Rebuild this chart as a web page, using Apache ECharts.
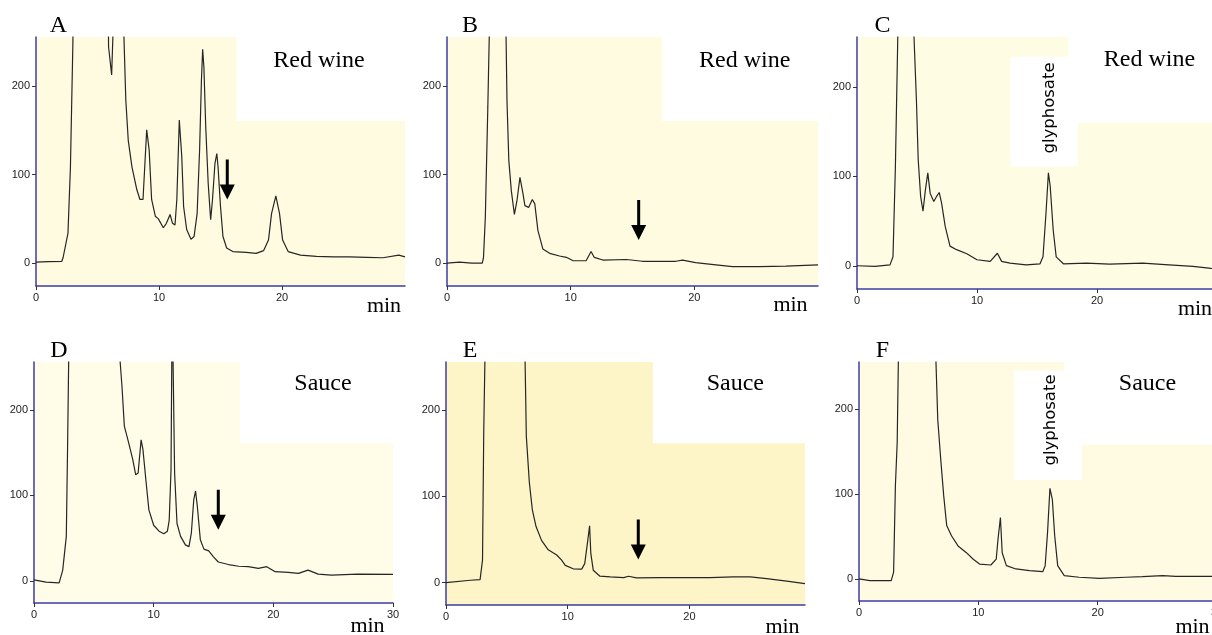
<!DOCTYPE html>
<html>
<head>
<meta charset="utf-8">
<script src="https://cdn.jsdelivr.net/npm/echarts@6/dist/echarts.min.js"></script>
<style>html,body{margin:0;padding:0;background:#fff}#c{width:1212px;height:635px}</style>
</head>
<body>
<div id="c"></div>
<script>
// ---- data: retention time (min) vs detector signal ----
const traceA = [[0,1],[1,1.5],[2.1,2],[2.2,6],[2.6,34],[2.8,109],[3.0,250],[3.05,330],[5.85,330],[5.9,245],[6.15,213],[6.25,256],[6.3,330],[7.1,330],[7.15,256],[7.3,185],[7.5,139],[7.8,109],[8.2,83],[8.45,72],[8.7,72],[9.0,151],[9.2,128],[9.4,72],[9.7,53],[9.95,50],[10.35,40],[10.6,45],[10.9,55],[11.1,45],[11.3,43],[11.45,72],[11.65,162],[11.85,121],[12.0,64],[12.25,38],[12.6,27],[12.85,30],[13.1,56],[13.3,128],[13.45,207],[13.55,242],[13.65,222],[13.8,154],[14.0,90],[14.2,49],[14.35,72],[14.55,113],[14.7,124],[14.8,109],[15.0,64],[15.2,30],[15.5,17],[16.0,13],[17.1,12],[17.9,11],[18.5,14],[18.9,26],[19.15,56],[19.5,76],[19.8,56],[20.05,26],[20.5,13],[21.5,9],[22.8,7.5],[24.2,7],[25.5,7],[26.9,6.5],[28.2,6],[29.5,9],[30,7]];
const traceB = [[0,0],[1,1],[2,0],[2.85,0],[2.95,6],[3.1,52],[3.3,176],[3.45,280],[3.55,330],[4.7,330],[4.85,184],[5.0,116],[5.2,82],[5.45,55],[5.65,70],[5.9,97],[6.15,78],[6.3,65],[6.6,63],[6.9,72],[7.1,67],[7.35,37],[7.75,16],[8.3,11],[9.1,8],[9.65,6.5],[10.2,2.6],[11.25,2.6],[11.65,13],[11.9,6.5],[12.6,3.4],[14.5,4],[15.8,2],[18.5,2],[19.05,3.4],[20.1,0.4],[21.75,-2],[23.1,-4],[25.25,-4],[27.4,-3.4],[30,-2]];
const traceC = [[0,0],[1.5,-0.7],[2.75,1],[3.0,10],[3.2,111],[3.4,257],[3.5,330],[4.65,330],[4.75,256],[4.95,186],[5.1,119],[5.3,78],[5.5,61],[5.7,85],[5.9,104],[6.1,81],[6.4,72],[6.65,78],[6.85,82],[7.05,70],[7.35,44],[7.75,22],[8.3,18],[9.15,13.4],[10.0,6.7],[11.1,4.9],[11.7,14],[12.05,4.9],[12.75,3],[14.1,1.1],[15.25,2.2],[15.5,10],[15.75,59],[15.95,104],[16.1,89],[16.35,40],[16.6,10],[17.2,2.2],[19.1,3],[21.05,1.9],[23.8,3],[26.0,1.1],[28.0,-0.7],[29.5,-3],[30,-3.5]];
const traceD = [[0,1],[1.0,-1.6],[2.1,-2.4],[2.4,12.5],[2.7,52],[2.8,150],[2.9,260],[2.95,330],[7.1,330],[7.2,256],[7.35,228],[7.55,181],[7.9,162],[8.25,142],[8.5,124],[8.7,126],[8.95,165],[9.1,154],[9.35,118],[9.6,83],[10.0,65],[10.45,58],[10.85,55],[11.15,58],[11.3,71],[11.45,130],[11.55,330],[11.65,330],[11.75,126],[11.95,67],[12.25,52],[12.65,42],[12.95,40],[13.15,56],[13.35,95],[13.5,105],[13.65,87],[13.9,48],[14.2,37],[14.6,35],[15.0,28],[15.4,22],[16.25,19],[17.1,17],[17.9,16.5],[18.75,14.5],[19.45,16.5],[20.15,10.6],[21.25,9.8],[22.1,8.6],[22.9,12.5],[23.75,7.8],[24.85,6.7],[27.05,7.8],[30,7.5]];
const traceE = [[0,0],[2.0,2.7],[2.8,3.5],[3.0,26],[3.1,174],[3.2,260],[3.25,330],[6.45,330],[6.5,256],[6.6,170],[6.85,116],[7.1,84],[7.4,65],[7.85,49],[8.4,38],[9.1,32],[9.5,26],[9.8,20],[10.45,16],[11.15,15.6],[11.4,22],[11.65,49],[11.8,66],[11.9,34],[12.1,14.4],[12.65,7.4],[13.5,6.6],[14.6,5.8],[15.0,7.4],[15.65,5.4],[17.6,5.8],[19.0,5.8],[21.7,5.8],[23.6,6.6],[25.0,6.6],[26.35,4.7],[28.0,1.6],[29.5,-1.2]];
const traceF = [[0,0],[0.9,-2],[2.7,-2],[2.9,8],[3.05,110],[3.2,161],[3.3,259],[3.35,330],[6.4,330],[6.45,256],[6.6,188],[6.85,141],[7.1,98],[7.35,63],[7.75,51],[8.3,39],[9.0,31],[9.55,23.5],[10.1,17.6],[11.05,16.5],[11.5,23.5],[11.65,47],[11.85,72.5],[12.0,31],[12.35,15.7],[13.15,11.8],[14.3,9.8],[15.4,8.6],[15.6,15.7],[15.8,55],[16.0,107],[16.2,94],[16.4,51],[16.65,15.7],[17.2,3.9],[18.45,2],[20.15,0.8],[22.35,2],[23.75,2.7],[25.45,3.9],[26.55,3.1],[30,3.1]];

// arrow tips [time, signal]
const arrowA = [15.55, 72];
const arrowB = [15.5, 26];
const arrowD = [15.4, 59.6];
const arrowE = [15.8, 26.8];

// white label boxes [x1, y1, x2, y2] in data units
const boxesA = [[16.3, 161, 30, 256]];
const boxesB = [[17.4, 161, 30, 256]];
const boxesC = [[12.8, 111, 18.4, 234], [17.6, 160, 30, 256]];
const boxesD = [[17.2, 161, 30, 256]];
const boxesE = [[17.0, 161.6, 29.5, 256]];
const boxesF = [[13.0, 116.7, 18.7, 246], [17.2, 158.7, 30, 256]];

const xTicksABCE = [0, 10, 20];
const xTicksDF = [0, 10, 20, 30];
const yTicks = [0, 100, 200];
const letters = ['A', 'B', 'C', 'D', 'E', 'F'];
const sampleTop = 'Red wine';
const sampleBottom = 'Sauce';
const peakName = 'glyphosate';
const unitName = 'min';

// ---- layout ----
const panels = [
  {grid:{left:36, top:37, width:369, height:249}, xmax:30, trace:traceA, arrow:arrowA, boxes:boxesA, xt:xTicksABCE, bg:'#fffbe0'},
  {grid:{left:447, top:37, width:371, height:249}, xmax:30, trace:traceB, arrow:arrowB, boxes:boxesB, xt:xTicksABCE, bg:'#fffbe0'},
  {grid:{left:857, top:37, width:360, height:252}, xmax:30, trace:traceC, arrow:null, boxes:boxesC, xt:xTicksABCE, bg:'#fffce4'},
  {grid:{left:34, top:362, width:359, height:241}, xmax:30, trace:traceD, arrow:arrowD, boxes:boxesD, xt:xTicksDF, bg:'#fffce8'},
  {grid:{left:446, top:362, width:359, height:243}, xmax:29.5, trace:traceE, arrow:arrowE, boxes:boxesE, xt:xTicksABCE, bg:'#fdf5c8'},
  {grid:{left:859, top:362, width:358, height:239}, xmax:30, trace:traceF, arrow:null, boxes:boxesF, xt:xTicksDF, bg:'#fffbe2'}
];

const axisBlue = '#3c3ca6';
const tickFont = {fontFamily:'Liberation Sans, Arial, sans-serif', fontSize:11, color:'#222'};
const arrowPath = 'path://M6,0 L9,0 L9,25 L15,25 L7.5,40 L0,25 L6,25 Z';

const grid = [], xAxis = [], yAxis = [], series = [];
panels.forEach((p, i) => {
  grid.push(Object.assign({show:true, backgroundColor:p.bg, borderWidth:0, containLabel:false, outerBoundsMode:'none'}, p.grid));
  xAxis.push({
    type:'value', gridIndex:i, min:0, max:p.xmax,
    axisLine:{show:true, onZero:false, lineStyle:{color:axisBlue, width:1.5}},
    axisTick:{show:true, length:4, customValues:p.xt, lineStyle:{color:'#333'}},
    axisLabel:Object.assign({show:true, margin:6, customValues:p.xt}, tickFont),
    splitLine:{show:false}
  });
  yAxis.push({
    type:'value', gridIndex:i, min:-26, max:256,
    axisLine:{show:true, onZero:false, lineStyle:{color:axisBlue, width:1.5}},
    axisTick:{show:true, length:4, customValues:yTicks, lineStyle:{color:'#333'}},
    axisLabel:Object.assign({show:true, margin:6, customValues:yTicks}, tickFont),
    splitLine:{show:false}
  });
  const s = {
    type:'line', xAxisIndex:i, yAxisIndex:i, data:p.trace, showSymbol:false, symbol:'none',
    clip:true, z:3, silent:true,
    lineStyle:{color:'#262626', width:1.2},
    markArea:{
      silent:true, z:1,
      itemStyle:{color:'#ffffff', borderWidth:0},
      label:{show:false},
      data:p.boxes.map(b => [{coord:[b[0], b[1]]}, {coord:[b[2], b[3]]}])
    }
  };
  if (p.arrow) {
    s.markPoint = {
      silent:true, z:5,
      symbol:arrowPath, symbolSize:[15,40], symbolOffset:[0,-20],
      itemStyle:{color:'#000'}, label:{show:false},
      data:[{coord:p.arrow}]
    };
  }
  series.push(s);
});

const serif = 'Liberation Serif, Times New Roman, serif';
function txt(x, y, text, size, extra) {
  return Object.assign({
    type:'text', x:x, y:y, silent:true, z:10,
    style:{text:text, font:size + 'px ' + serif, fill:'#000',
           align:'center', verticalAlign:'middle', textAlign:'center', textVerticalAlign:'middle'}
  }, extra || {});
}
const graphic = [
  txt(58.5, 26, letters[0], 24), txt(470, 26, letters[1], 24), txt(882.5, 26, letters[2], 24),
  txt(59, 351, letters[3], 24), txt(470, 351, letters[4], 24), txt(882.5, 351, letters[5], 24),
  txt(319, 61, sampleTop, 24), txt(744.7, 61, sampleTop, 24), txt(1149.5, 59.5, sampleTop, 24),
  txt(323, 384, sampleBottom, 24), txt(735.3, 384, sampleBottom, 24), txt(1147.5, 384, sampleBottom, 24),
  txt(384, 306, unitName, 22), txt(790.5, 305.5, unitName, 22), txt(1195, 309, unitName, 22),
  txt(367.5, 626, unitName, 22), txt(782.5, 627.5, unitName, 22), txt(1192.5, 627.5, unitName, 22),
  {type:'text', x:1050, y:108, rotation:Math.PI/2, scaleX:1.1, silent:true, z:10,
   style:{text:peakName, font:'15px DejaVu Sans, Verdana, sans-serif', fill:'#000',
          align:'center', verticalAlign:'middle', textAlign:'center', textVerticalAlign:'middle'}},
  {type:'text', x:1051.5, y:420, rotation:Math.PI/2, scaleX:1.1, silent:true, z:10,
   style:{text:peakName, font:'15px DejaVu Sans, Verdana, sans-serif', fill:'#000',
          align:'center', verticalAlign:'middle', textAlign:'center', textVerticalAlign:'middle'}}
];

const chart = echarts.init(document.getElementById('c'), null, {renderer:'canvas'});
chart.setOption({animation:false, backgroundColor:'#ffffff', grid, xAxis, yAxis, series, graphic});
</script>
</body>
</html>
